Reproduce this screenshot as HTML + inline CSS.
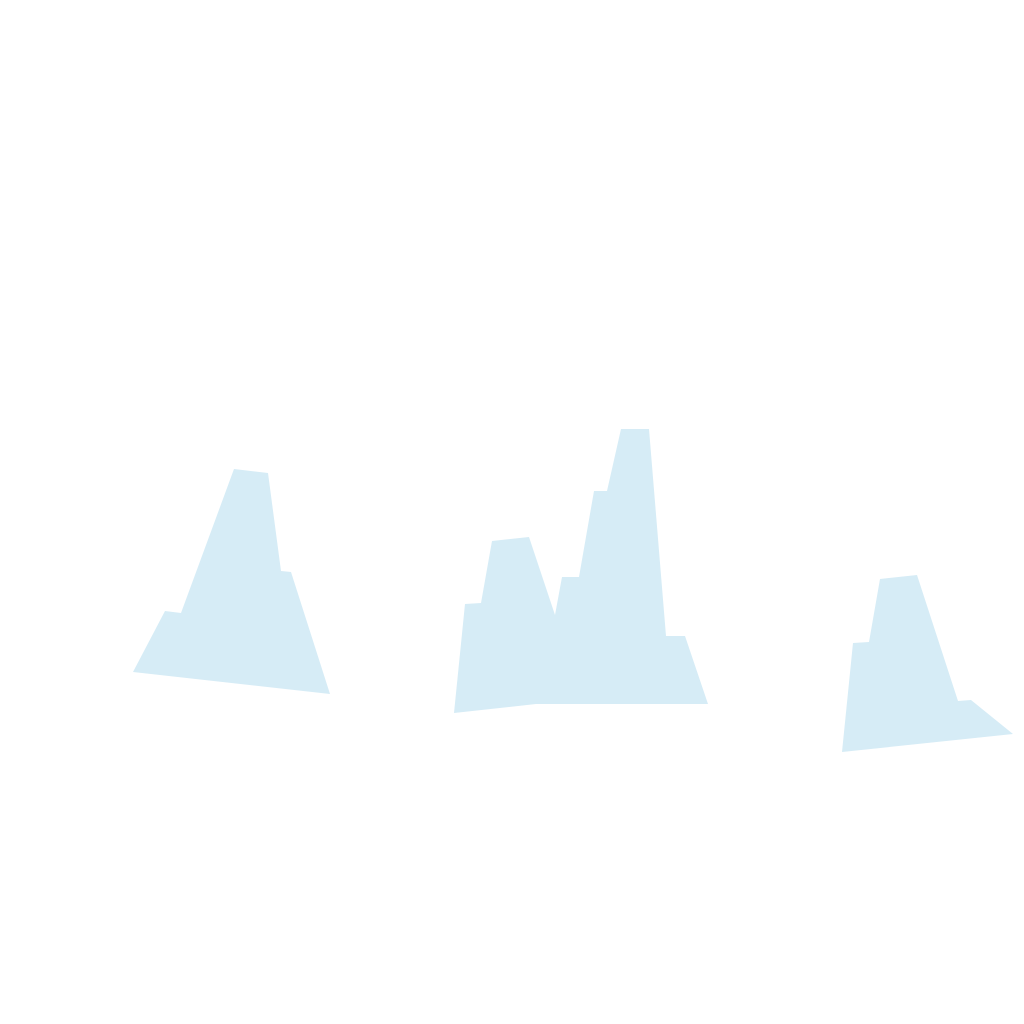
<!DOCTYPE html>
<html>
<head>
<meta charset="utf-8">
<style>
html,body{margin:0;padding:0;background:#fff;}
svg{display:block;}
</style>
</head>
<body>
<svg id="chart" width="1024" height="1024" viewBox="0 0 1024 1024" xmlns="http://www.w3.org/2000/svg">
<rect x="0" y="0" width="1024" height="1024" fill="#ffffff"/>
</svg>
<script>
const shapeLeft = [[133,672],[165,611],[181,613],[234,469],[268,473],[281,571],[291,572],[330,694]];
const shapeMiddle = [[454,713],[465,604],[481,603],[492,541],[529,537],[555,615],[562,577],[579,577],[594,491],[607,491],[621,429],[649,429],[666,636],[685,636],[708,704],[536,704]];
const shapeRight = [[842,752],[853,643],[869,642],[880,579],[917,575],[958,701],[971,700],[1013,734]];
const shapeNames = ['area-left','area-middle','area-right'];

const svg = document.getElementById('chart');
const NS = 'http://www.w3.org/2000/svg';
[shapeLeft, shapeMiddle, shapeRight].forEach(function(pts, i){
  const p = document.createElementNS(NS, 'polygon');
  p.setAttribute('points', pts.map(function(v){return v[0]+','+v[1];}).join(' '));
  p.setAttribute('fill', '#d6ecf6');
  
  
  svg.appendChild(p);
});
</script>
</body>
</html>
